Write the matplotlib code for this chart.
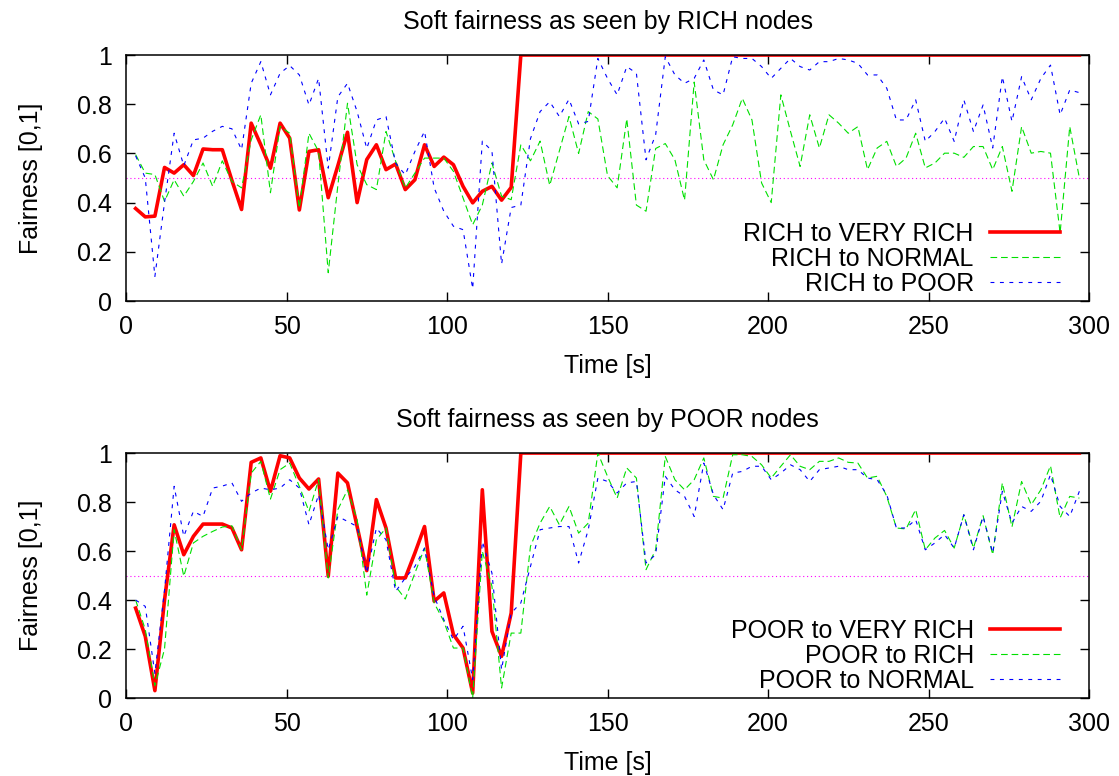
import numpy as np
import matplotlib.pyplot as plt
from matplotlib.ticker import FormatStrFormatter

plt.rcParams['font.family'] = ['Liberation Sans', 'DejaVu Sans']
plt.rcParams['font.size'] = 18

# time axis, one sample every 3 s
time_s = np.arange(3, 300, 3)

# --- RICH nodes ---
rich_to_very_rich = [
    0.376, 0.342, 0.345, 0.543, 0.52, 0.554, 0.51, 0.618, 0.615, 0.615,
    0.49, 0.372, 0.723, 0.635, 0.54, 0.723, 0.662, 0.37, 0.608, 0.615,
    0.42, 0.55, 0.686, 0.40, 0.575, 0.635, 0.534, 0.557, 0.453, 0.493,
    0.635, 0.547, 0.585, 0.554, 0.466, 0.399, 0.446, 0.466, 0.41, 0.462,
    1.0, 1.0, 1.0, 1.0, 1.0, 1.0, 1.0, 1.0, 1.0, 1.0,
    1.0, 1.0, 1.0, 1.0, 1.0, 1.0, 1.0, 1.0, 1.0, 1.0,
    1.0, 1.0, 1.0, 1.0, 1.0, 1.0, 1.0, 1.0, 1.0, 1.0,
    1.0, 1.0, 1.0, 1.0, 1.0, 1.0, 1.0, 1.0, 1.0, 1.0,
    1.0, 1.0, 1.0, 1.0, 1.0, 1.0, 1.0, 1.0, 1.0, 1.0,
    1.0, 1.0, 1.0, 1.0, 1.0, 1.0, 1.0, 1.0, 1.0,
]
rich_to_normal = [
    0.595, 0.52, 0.514, 0.405, 0.493, 0.426, 0.486, 0.561, 0.466, 0.57,
    0.486, 0.46, 0.655, 0.757, 0.44, 0.71, 0.682, 0.378, 0.682, 0.608,
    0.115, 0.47, 0.804, 0.554, 0.473, 0.453, 0.689, 0.568, 0.459, 0.52,
    0.581, 0.581, 0.581, 0.527, 0.419, 0.31, 0.39, 0.561, 0.426, 0.412,
    0.635, 0.57, 0.65, 0.47, 0.61, 0.75, 0.6, 0.77, 0.74, 0.51,
    0.46, 0.74, 0.39, 0.365, 0.62, 0.64, 0.574, 0.41, 0.89, 0.574,
    0.493, 0.635, 0.716, 0.824, 0.736, 0.48, 0.40, 0.838, 0.69, 0.547,
    0.757, 0.622, 0.757, 0.723, 0.682, 0.709, 0.534, 0.622, 0.649, 0.547,
    0.581, 0.682, 0.541, 0.561, 0.601, 0.601, 0.584, 0.628, 0.628, 0.534,
    0.628, 0.446, 0.709, 0.601, 0.608, 0.601, 0.277, 0.709, 0.5,
]
rich_to_poor = [
    0.59, 0.50, 0.10, 0.40, 0.682, 0.55, 0.655, 0.662, 0.69, 0.71,
    0.70, 0.615, 0.885, 0.973, 0.838, 0.926, 0.957, 0.919, 0.797, 0.905,
    0.54, 0.83, 0.885, 0.77, 0.62, 0.736, 0.75, 0.56, 0.513, 0.608,
    0.69, 0.46, 0.365, 0.304, 0.29, 0.05, 0.65, 0.61, 0.15, 0.38,
    0.39, 0.66, 0.77, 0.81, 0.75, 0.82, 0.72, 0.73, 0.986, 0.905,
    0.838, 0.953, 0.926, 0.574, 0.676, 0.993, 0.919, 0.885, 0.905, 0.98,
    0.858, 0.838, 0.993, 0.986, 0.986, 0.953, 0.905, 0.946, 0.986, 0.953,
    0.939, 0.973, 0.973, 0.986, 0.98, 0.966, 0.919, 0.919, 0.865, 0.736,
    0.736, 0.818, 0.649, 0.689, 0.743, 0.649, 0.818, 0.689, 0.797, 0.622,
    0.912, 0.73, 0.912, 0.818, 0.905, 0.959, 0.757, 0.858, 0.847,
]

# --- POOR nodes ---
poor_to_very_rich = [
    0.367, 0.252, 0.03, 0.40, 0.707, 0.585, 0.66, 0.71, 0.71, 0.71,
    0.694, 0.605, 0.962, 0.98, 0.844, 0.989, 0.98, 0.898, 0.853, 0.894,
    0.497, 0.918, 0.878, 0.70, 0.52, 0.81, 0.694, 0.49, 0.49, 0.592,
    0.70, 0.395, 0.429, 0.259, 0.204, 0.02, 0.85, 0.272, 0.17, 0.347,
    1.0, 1.0, 1.0, 1.0, 1.0, 1.0, 1.0, 1.0, 1.0, 1.0,
    1.0, 1.0, 1.0, 1.0, 1.0, 1.0, 1.0, 1.0, 1.0, 1.0,
    1.0, 1.0, 1.0, 1.0, 1.0, 1.0, 1.0, 1.0, 1.0, 1.0,
    1.0, 1.0, 1.0, 1.0, 1.0, 1.0, 1.0, 1.0, 1.0, 1.0,
    1.0, 1.0, 1.0, 1.0, 1.0, 1.0, 1.0, 1.0, 1.0, 1.0,
    1.0, 1.0, 1.0, 1.0, 1.0, 1.0, 1.0, 1.0, 1.0,
]
poor_to_rich = [
    0.40, 0.28, 0.05, 0.2, 0.687, 0.497, 0.633, 0.66, 0.68, 0.698,
    0.703, 0.605, 0.918, 0.966, 0.812, 0.932, 0.959, 0.864, 0.762, 0.891,
    0.49, 0.769, 0.85, 0.728, 0.42, 0.646, 0.694, 0.456, 0.404, 0.51,
    0.612, 0.388, 0.313, 0.204, 0.204, 0.0, 0.599, 0.456, 0.041, 0.265,
    0.265, 0.619, 0.714, 0.782, 0.707, 0.782, 0.673, 0.714, 1.0, 0.905,
    0.816, 0.939, 0.898, 0.524, 0.605, 0.986, 0.891, 0.85, 0.891, 0.98,
    0.823, 0.816, 0.993, 0.993, 0.986, 0.952, 0.898, 0.946, 0.993, 0.946,
    0.932, 0.966, 0.966, 0.98, 0.962, 0.959, 0.898, 0.905, 0.823, 0.694,
    0.69, 0.769, 0.605, 0.653, 0.684, 0.612, 0.748, 0.612, 0.744, 0.585,
    0.878, 0.698, 0.884, 0.789, 0.85, 0.948, 0.735, 0.823, 0.816,
]
poor_to_normal = [
    0.40, 0.374, 0.10, 0.44, 0.864, 0.66, 0.762, 0.741, 0.857, 0.865,
    0.878, 0.803, 0.837, 0.857, 0.85, 0.857, 0.891, 0.857, 0.707, 0.83,
    0.605, 0.741, 0.721, 0.70, 0.51, 0.694, 0.646, 0.435, 0.49, 0.537,
    0.612, 0.415, 0.32, 0.238, 0.293, 0.075, 0.639, 0.51, 0.116, 0.347,
    0.388, 0.537, 0.687, 0.694, 0.70, 0.70, 0.551, 0.687, 0.898, 0.884,
    0.837, 0.878, 0.884, 0.551, 0.585, 0.905, 0.85, 0.823, 0.741, 0.959,
    0.83, 0.769, 0.918, 0.925, 0.946, 0.946, 0.891, 0.918, 0.952, 0.932,
    0.884, 0.932, 0.939, 0.946, 0.932, 0.932, 0.898, 0.891, 0.83, 0.694,
    0.694, 0.728, 0.605, 0.633, 0.667, 0.612, 0.748, 0.605, 0.741, 0.592,
    0.844, 0.714, 0.782, 0.762, 0.803, 0.912, 0.782, 0.741, 0.844,
]

fair_level = 0.5

fig = plt.figure(figsize=(11.19, 7.76), dpi=100)
ax1 = fig.add_axes([0.1126, 0.6121, 0.8606, 0.3170])
ax2 = fig.add_axes([0.1126, 0.1005, 0.8606, 0.3157])


def style_axes(ax, title):
    ax.set_xlim(0, 300)
    ax.set_ylim(0, 1)
    ax.set_xticks(np.arange(0, 301, 50))
    ax.set_yticks(np.arange(0, 1.01, 0.2))
    ax.yaxis.set_major_formatter(FormatStrFormatter('%g'))
    ax.tick_params(direction='in', length=6.5, width=1, top=True, right=True,
                   labelsize=18, pad=10)
    for s in ax.spines.values():
        s.set_linewidth(1.1)
    ax.set_title(title, fontsize=18, pad=19)
    ax.set_xlabel('Time [s]', labelpad=11)
    ax.set_ylabel('Fairness [0,1]')
    ax.yaxis.set_label_coords(-0.086, 0.5)


def draw(ax, series, labels):
    ax.axhline(fair_level, color='#ff00ff', lw=0.8, ls=(0, (1, 2.5)))
    ax.plot(time_s, series[0], color='#ff0000', lw=2.6, label=labels[0])
    ax.plot(time_s, series[1], color='#00e000', lw=0.8, ls=(0, (6, 3.5)),
            label=labels[1])
    ax.plot(time_s, series[2], color='#0000ff', lw=0.8, ls=(0, (3.5, 5)),
            label=labels[2])
    # gnuplot-like key: labels right-aligned, sample on the right
    ax.legend(loc='lower right', bbox_to_anchor=(0.97, 0.02), frameon=False,
              markerfirst=False, borderpad=0, borderaxespad=0,
              handlelength=2.8, handletextpad=0.65, labelspacing=0.05)


draw(ax1, [rich_to_very_rich, rich_to_normal, rich_to_poor],
     ['RICH to VERY RICH', 'RICH to NORMAL', 'RICH to POOR'])
style_axes(ax1, 'Soft fairness as seen by RICH nodes')

draw(ax2, [poor_to_very_rich, poor_to_rich, poor_to_normal],
     ['POOR to VERY RICH', 'POOR to RICH', 'POOR to NORMAL'])
style_axes(ax2, 'Soft fairness as seen by POOR nodes')

fig.savefig('out.png', dpi=100)
